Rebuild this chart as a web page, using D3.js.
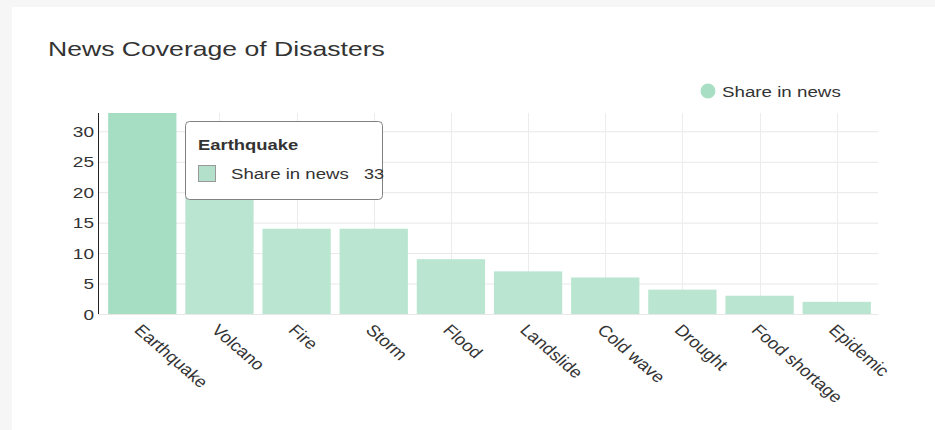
<!DOCTYPE html>
<html><head><meta charset="utf-8">
<script src="https://cdn.jsdelivr.net/npm/d3@7"></script>
<style>
html,body{margin:0;padding:0;background:#f6f6f6;}
svg{display:block;font-family:"Liberation Sans",Arial,sans-serif;}
</style></head>
<body>
<svg id="c" width="935" height="430"></svg>
<script>
const categories = ["Earthquake","Volcano","Fire","Storm","Flood","Landslide","Cold wave","Drought","Food shortage","Epidemic"];
const shareInNews = [33,21,14,14,9,7,6,4,3,2];
const yTicks = [0,5,10,15,20,25,30];
const seriesName = "Share in news";
const title = "News Coverage of Disasters";
const hoverIndex = 0;

const SX = 1.27; // horizontal stretch of the reference's text

const svg = d3.select("#c");
svg.append("rect").attr("x",12).attr("y",7).attr("width",923).attr("height",423).attr("fill","#fff");

const m = {left:98, right:878, top:113, bottom:314};
const x = d3.scaleBand().domain(categories).range([103.5,875.5]).paddingInner(0.115).paddingOuter(0.06);
const xc = d => x(d) + x.bandwidth()/2;
const y = d3.scaleLinear().domain([0,33]).range([m.bottom, m.top]);

function txt(parent, px, py, str, size, opts={}) {
  const t = parent.append("text")
    .attr("transform", `translate(${px},${py}) scale(${opts.sx||SX},1)`)
    .attr("font-size", size).attr("fill", opts.fill||"#333")
    .attr("text-anchor", opts.anchor||"start")
    .text(str);
  if (opts.bold) t.attr("font-weight","bold");
  return t;
}

txt(svg, 48, 56, title, 20, {sx:1.33});

// grid
const g = svg.append("g");
g.selectAll(".hg").data(yTicks).join("line")
 .attr("x1",m.left).attr("x2",m.right).attr("y1",d=>y(d)+0.5).attr("y2",d=>y(d)+0.5)
 .attr("stroke","#e8e8e8");
g.selectAll(".vg").data(categories).join("line")
 .attr("x1",d=>Math.round(xc(d))+0.5).attr("x2",d=>Math.round(xc(d))+0.5).attr("y1",m.top).attr("y2",m.bottom)
 .attr("stroke","#ececec");

// bars
svg.append("g").selectAll("rect").data(categories).join("rect")
 .attr("x",d=>x(d)).attr("width",x.bandwidth())
 .attr("y",(d,i)=>y(shareInNews[i])).attr("height",(d,i)=>y(0)-y(shareInNews[i]))
 .attr("fill",(d,i)=> i===hoverIndex ? "#a6dec3" : "#bae6d1");

// y axis
const ya = svg.append("g").attr("transform",`translate(${m.left},0)`)
 .call(d3.axisLeft(y).tickValues(yTicks).tickSize(0).tickPadding(4));
ya.select(".domain").attr("stroke","#222").attr("d",`M0.5,${m.top}V${m.bottom}`);
ya.selectAll(".tick text")
 .attr("font-size",15).attr("fill","#333").attr("font-family","Liberation Sans, Arial, sans-serif")
 .attr("x",null).attr("dy",null).attr("y",5)
 .attr("transform",`translate(-4,0) scale(${SX},1)`);

// x axis labels
const xa = svg.append("g").attr("transform",`translate(0,${m.bottom})`)
 .call(d3.axisBottom(x).tickSize(0));
xa.select(".domain").remove();
xa.selectAll("text").attr("font-size",16).attr("fill","#333")
 .attr("font-family","Liberation Sans, Arial, sans-serif")
 .attr("text-anchor","start").attr("dy",0).attr("y",0)
 .attr("transform","translate(-9,17) scale(1.16,1) rotate(45)");

// legend
svg.append("circle").attr("cx",708).attr("cy",91).attr("r",7.5).attr("fill","#a8dfc4");
txt(svg, 722, 97, seriesName, 15, {sx:1.25});

// tooltip
const tt = svg.append("g");
tt.append("rect").attr("x",185.5).attr("y",121.5).attr("width",197).attr("height",78).attr("rx",4)
 .attr("fill","#fff").attr("stroke","#808080");
txt(tt, 198, 150, categories[hoverIndex], 14.5, {bold:true});
tt.append("rect").attr("x",198.5).attr("y",165.5).attr("width",17).attr("height",16).attr("fill","#b3e0ca").attr("stroke","#999");
txt(tt, 231, 179, seriesName, 15, {sx:1.24});
txt(tt, 364, 179, shareInNews[hoverIndex], 15, {sx:1.2});
</script>
</body></html>
